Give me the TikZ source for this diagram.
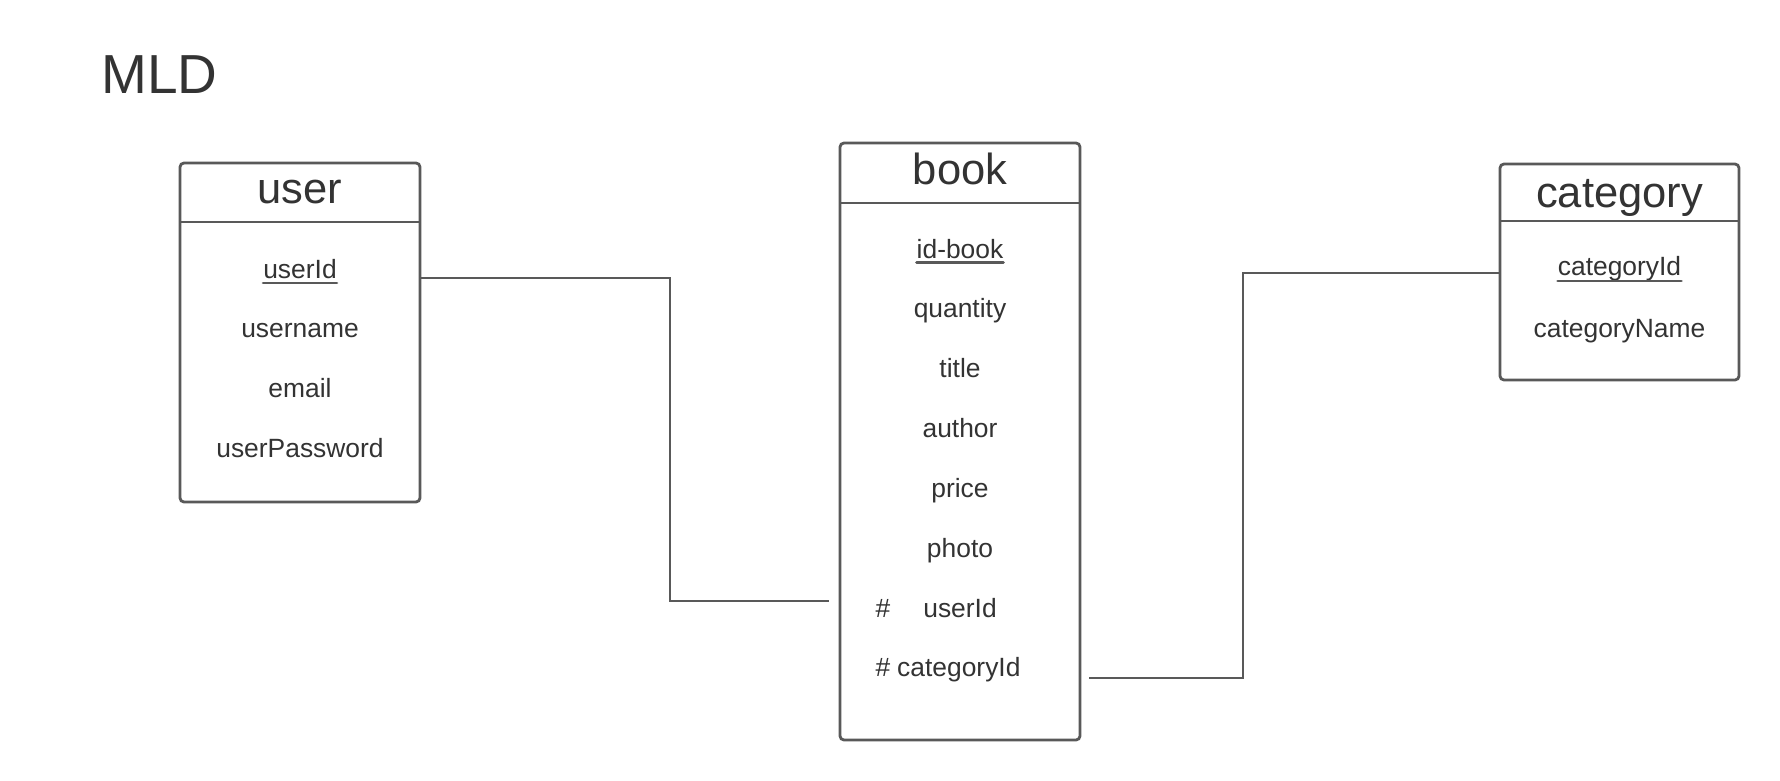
\documentclass[tikz,border=0pt]{standalone}
\usepackage{fontspec}
\setmainfont{Liberation Sans}
\definecolor{txt}{HTML}{333333}
\definecolor{ln}{HTML}{595959}
\begin{document}
\begin{tikzpicture}[x=1pt,y=-1pt,
  tbox/.style={draw=ln, line width=2.8pt, rounded corners=4pt, inner sep=0pt, outer sep=0pt},
  hline/.style={draw=ln, line width=2.8pt},
  conn/.style={draw=ln, line width=2.8pt},
  uline/.style={draw=ln, line width=2.8pt, line cap=round},
  ttl/.style={anchor=base, inner sep=0pt, text=txt, font=\fontsize{43.5}{50}\selectfont},
  attr/.style={anchor=base, inner sep=0pt, text=txt, font=\fontsize{26.4}{31}\selectfont},
  big/.style={anchor=base west, inner sep=0pt, text=txt, font=\fontsize{55}{62}\selectfont}]
\useasboundingbox[fill=white] (0,0) rectangle (1780,780);

\node[big] (mld) at (101,93) {MLD};

% user table
\node[tbox, minimum width=240pt, minimum height=339pt] (user) at (300,332.5) {};
\draw[hline] (user.west |- 0,222) -- (user.east |- 0,222);
\node[ttl] (usert) at (300,203) {user};
\node[attr] (uid) at (300,278) {userId};
\draw[uline] ([yshift=-5pt]uid.base west) -- ([yshift=-5pt]uid.base east);
\node[attr] (uname) at (300,337) {username};
\node[attr] (umail) at (300,397) {email};
\node[attr] (upass) at (300,457) {userPassword};

% book table
\node[tbox, minimum width=240pt, minimum height=597pt] (book) at (960,441.5) {};
\draw[hline] (book.west |- 0,203) -- (book.east |- 0,203);
\node[ttl] (bookt) at (960,184) {book};
\node[attr] (bid) at (960,258) {id-book};
\draw[uline] ([yshift=-4.5pt]bid.base west) -- ([yshift=-4.5pt]bid.base east);
\node[attr] (bqty) at (960,317) {quantity};
\node[attr] (btitle) at (960,377) {title};
\node[attr] (bauth) at (960,437) {author};
\node[attr] (bprice) at (960,497) {price};
\node[attr] (bphoto) at (960,557) {photo};
\node[attr] (bh1) at (883,617) {\#};
\node[attr] (buid) at (960,617) {userId};
\node[attr] (bh2) at (883,676) {\#};
\node[attr, anchor=base west] (bcid) at (897,676) {categoryId};

% category table
\node[tbox, minimum width=239pt, minimum height=216pt] (cat) at (1619.5,272) {};
\draw[hline] (cat.west |- 0,221) -- (cat.east |- 0,221);
\node[ttl] (catt) at (1619.5,207) {category};
\node[attr] (cid) at (1619.5,275) {categoryId};
\draw[uline] ([yshift=-6pt]cid.base west) -- ([yshift=-6pt]cid.base east);
\node[attr] (cname) at (1619.5,337) {categoryName};

% connectors
\coordinate (ua) at (670,278);
\coordinate (ub) at (829,601);
\draw[conn] (user.east |- ua) -- (ua) |- (ub);
\coordinate (ca) at (1089,678);
\coordinate (cb) at (1243,273);
\draw[conn] (ca) -| (cb) -- (cat.west |- cb);
\end{tikzpicture}
\end{document}
